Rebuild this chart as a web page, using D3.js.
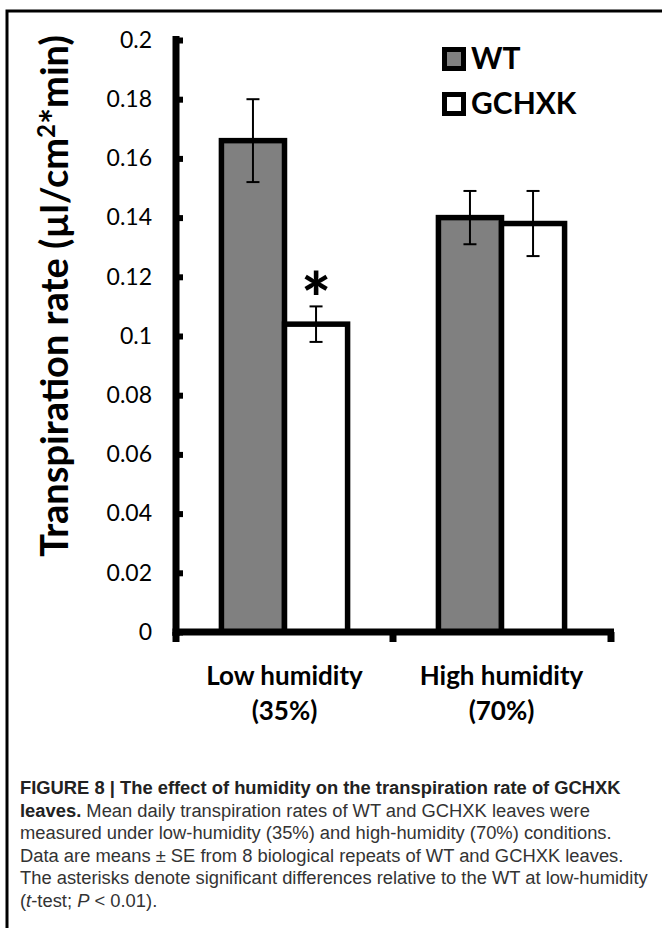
<!DOCTYPE html>
<html>
<head>
<meta charset="utf-8">
<script src="https://cdn.jsdelivr.net/npm/d3@7"></script>
<style>
  body { margin: 0; background: #fff; }
  svg { display: block; }
</style>
</head>
<body>
<div id="chart"></div>
<script>
const groups = ["Low humidity", "High humidity"];
const groupNotes = ["(35%)", "(70%)"];
const series = ["WT", "GCHXK"];
const wtValues = [0.166, 0.140];
const wtErrors = [0.014, 0.009];
const gchxkValues = [0.104, 0.138];
const gchxkErrors = [0.006, 0.011];
const yTicks = [0, 0.02, 0.04, 0.06, 0.08, 0.1, 0.12, 0.14, 0.16, 0.18, 0.2];
const starred = [[0, "GCHXK"]];
const captionLines = [
  [["b", "FIGURE 8 | The effect of humidity on the transpiration rate of GCHXK"]],
  [["b", "leaves."], ["n", " Mean daily transpiration rates of WT and GCHXK leaves were"]],
  [["n", "measured under low-humidity (35%) and high-humidity (70%) conditions."]],
  [["n", "Data are means \u00b1 SE from 8 biological repeats of WT and GCHXK leaves."]],
  [["n", "The asterisks denote significant differences relative to the WT at low-humidity"]],
  [["n", "("], ["i", "t"], ["n", "-test; "], ["i", "P"], ["n", " < 0.01)."]]
];

const W = 662, H = 928;
const chartFont = "Lato, 'Open Sans', sans-serif";
const capFont = "'Liberation Sans', Arial, sans-serif";

const rows = [];
groups.forEach((g, i) => {
  rows.push({group: g, key: "WT", value: wtValues[i], err: wtErrors[i]});
  rows.push({group: g, key: "GCHXK", value: gchxkValues[i], err: gchxkErrors[i]});
});

const color = d3.scaleOrdinal().domain(series).range(["#808080", "#ffffff"]);

const svg = d3.select('#chart')
  .append('svg')
  .attr('width', W)
  .attr('height', H);

// frame
svg.append('path')
  .attr('d', `M7,${H} V11 H${W}`)
  .attr('fill', 'none')
  .attr('stroke', '#000')
  .attr('stroke-width', 3);

const x = d3.scaleBand()
  .domain(groups)
  .range([176, 610]);
const xSub = d3.scaleBand()
  .domain(series)
  .range([0, x.bandwidth()])
  .paddingOuter(0.72);
const y = d3.scaleLinear()
  .domain([0, 0.2])
  .range([632, 40]);

// bars
svg.append('g')
  .attr('class', 'bars')
  .selectAll('rect')
  .data(rows)
  .join('rect')
  .attr('x', d => x(d.group) + xSub(d.key))
  .attr('y', d => y(d.value))
  .attr('width', xSub.bandwidth())
  .attr('height', d => y(0) - y(d.value))
  .attr('fill', d => color(d.key))
  .attr('stroke', '#000')
  .attr('stroke-width', 5.5);

// error bars
const eb = svg.append('g')
  .attr('class', 'errors')
  .attr('stroke', '#000')
  .attr('stroke-width', 2);
const cx = d => x(d.group) + xSub(d.key) + xSub.bandwidth() / 2;
eb.selectAll('line.v')
  .data(rows)
  .join('line')
  .attr('class', 'v')
  .attr('x1', cx).attr('x2', cx)
  .attr('y1', d => y(d.value + d.err))
  .attr('y2', d => y(d.value - d.err));
eb.selectAll('line.top')
  .data(rows)
  .join('line')
  .attr('class', 'top')
  .attr('x1', d => cx(d) - 6.5).attr('x2', d => cx(d) + 6.5)
  .attr('y1', d => y(d.value + d.err))
  .attr('y2', d => y(d.value + d.err));
eb.selectAll('line.bot')
  .data(rows)
  .join('line')
  .attr('class', 'bot')
  .attr('x1', d => cx(d) - 6.5).attr('x2', d => cx(d) + 6.5)
  .attr('y1', d => y(d.value - d.err))
  .attr('y2', d => y(d.value - d.err));

// significance
svg.append('g')
  .selectAll('text')
  .data(starred.map(([gi, key]) => rows.find(r => r.group === groups[gi] && r.key === key)))
  .join('text')
  .attr('x', cx)
  .attr('y', d => y(d.value + d.err) + 18)
  .attr('text-anchor', 'middle')
  .attr('font-family', chartFont)
  .attr('font-weight', 900)
  .attr('font-size', 70)
  .text('*');

// y axis
const yAxis = d3.axisLeft(y)
  .tickValues(yTicks)
  .tickFormat(d => String(+d.toFixed(2)))
  .tickSizeInner(-7)
  .tickSizeOuter(0)
  .tickPadding(24);
const gy = svg.append('g')
  .attr('class', 'y axis')
  .attr('transform', 'translate(176,0)')
  .call(yAxis);
gy.select('.domain').attr('stroke-width', 7).attr('d', `M0,${y(0.2) - 4}V${y(0) + 4}`);
gy.selectAll('.tick line').attr('stroke-width', 6);
gy.selectAll('.tick text')
  .attr('font-family', chartFont)
  .attr('font-size', 23)
  .attr('fill', '#000');

// x axis
const xAxis = d3.axisBottom(x).tickSize(0).tickPadding(0).tickFormat('');
const gx = svg.append('g')
  .attr('class', 'x axis')
  .attr('transform', `translate(0,${y(0)})`)
  .call(xAxis);
gx.select('.domain').attr('stroke-width', 7).attr('d', `M172.5,0H${x.range()[1] + 4}`);
const bounds = [x.range()[0], x(groups[1]), x.range()[1] + 1];
gx.selectAll('line.bound')
  .data(bounds)
  .join('line')
  .attr('class', 'bound')
  .attr('x1', d => d).attr('x2', d => d)
  .attr('y1', 0).attr('y2', 10)
  .attr('stroke', '#000')
  .attr('stroke-width', 7);
const lbl = gx.selectAll('.tick text')
  .attr('font-family', chartFont)
  .attr('font-weight', 'bold')
  .attr('font-size', 26)
  .attr('fill', '#000')
  .attr('dy', null);
lbl.each(function(d, i) {
  const t = d3.select(this);
  t.append('tspan').attr('x', 0).attr('y', 53).text(d);
  t.append('tspan').attr('x', 0).attr('y', 88).text(groupNotes[i]);
});

// y title
svg.append('text')
  .attr('transform', `translate(68,${(y(0) + y(0.2)) / 2 - 40}) rotate(-90)`)
  .attr('text-anchor', 'middle')
  .attr('font-family', chartFont)
  .attr('font-weight', 'bold')
  .attr('font-size', 38)
  .attr('fill', '#000')
  .html('Transpiration rate (\u00b5l/cm<tspan dy="-13" font-size="24">2</tspan><tspan dy="13">*min)</tspan>');

// legend
const legend = svg.append('g')
  .attr('class', 'legend')
  .selectAll('g')
  .data(series)
  .join('g')
  .attr('transform', (d, i) => `translate(442,${47 + i * 45})`);
legend.append('rect')
  .attr('x', 2.5).attr('y', 2.5)
  .attr('width', 19).attr('height', 19)
  .attr('fill', d => color(d))
  .attr('stroke', '#000')
  .attr('stroke-width', 5);
legend.append('text')
  .attr('x', 29).attr('y', 22)
  .attr('font-family', chartFont)
  .attr('font-weight', 'bold')
  .attr('font-size', 30)
  .attr('fill', '#000')
  .text(d => d);

// caption
const cap = svg.append('g').attr('class', 'caption');
const capTexts = captionLines.map((parts, i) => {
  const t = cap.append('text')
    .attr('x', 0)
    .attr('y', 0)
    .attr('font-family', capFont)
    .attr('font-size', 18)
    .attr('fill', '#333');
  parts.forEach(([s, str]) => {
    const ts = t.append('tspan').text(str);
    if (s === 'b') ts.attr('font-weight', 'bold').attr('fill', '#222');
    if (s === 'i') ts.attr('font-style', 'italic');
  });
  return t;
});
const sx = 628 / capTexts[4].node().getComputedTextLength();
capTexts.forEach((t, i) => {
  t.attr('transform', `translate(20,${794 + i * 22.5}) scale(${sx},1)`);
});
</script>
</body>
</html>
